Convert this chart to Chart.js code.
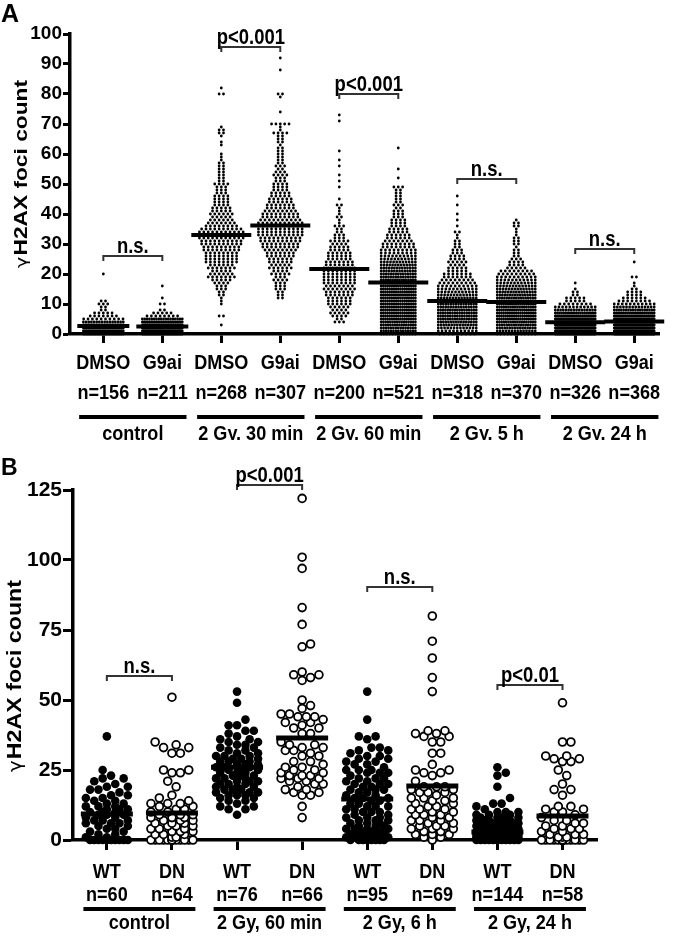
<!DOCTYPE html>
<html>
<head>
<meta charset="utf-8">
<script src="https://cdn.jsdelivr.net/npm/chart.js@4.4.1/dist/chart.umd.min.js"></script>
<style>
  html, body { margin: 0; padding: 0; background: #fff; }
  #wrap { position: relative; width: 693px; height: 936px; }
  canvas { position: absolute; left: 0; }
  #cA { top: 0; }
  #cB { top: 440px; }
</style>
</head>
<body>
<div id="wrap">
  <canvas id="cA" width="693" height="440"></canvas>
  <canvas id="cB" width="693" height="496"></canvas>
</div>
<script>
// ---------- panel A data: number of cells per foci count (index = foci count)
const treatA = ['DMSO', 'G9ai', 'DMSO', 'G9ai', 'DMSO', 'G9ai', 'DMSO', 'G9ai', 'DMSO', 'G9ai'];
const nA = ['n=156', 'n=211', 'n=268', 'n=307', 'n=200', 'n=521', 'n=318', 'n=370', 'n=326', 'n=368'];
const groupsA = ['control', '2 Gy, 30 min', '2 Gy, 60 min', '2 Gy, 5 h', '2 Gy, 24 h'];
const yTicksA = [0, 100, 10];

const ctrlDMSO = [30,30,26,22,16,10,7,5,2,2, 3,2,0,0,0,0,0,0,0,0, 1];
const ctrlG9ai = [38,42,38,32,24,18,8,5,2,0, 2,0,1,0,0,0,1];
const gy30DMSO = [0,0,0,1,0,0,2,0,0,0, 1,1,1,2,2,3,3,4,5,7, 6,5,7,6,8,8,8,8,9,9,
  10,10,11,11,11,10,8,7,6,5, 6,5,5,4,4,4,4,3,3,3, 4,2,2,2,2,2,2,2,1,1,
  1,0,0,1,1,0,1,2,2,1, 0,0,0,0,0,0,0,0,0,0, 2,0,1];
const gy30G9ai = [0,0,0,0,0,0,0,0,0,0, 0,0,2,2,2,3,3,3,4,3, 5,4,6,5,6,6,7,7,8,9,
  9,10,10,11,11,11,11,11,10,9, 9,8,7,7,6,6,5,5,4,4, 4,3,3,4,3,2,3,2,2,2,
  2,2,2,1,2,2,2,4,1,1, 5,0,0,0,1,0,0,0,0,1, 2,0,0,0,0,0,0,0,1,0, 0,0,1];
const gy60DMSO = [0,0,0,0,3,2,4,5,4,5, 6,6,6,7,7,8,7,8,8,8, 8,8,8,7,7,6,6,6,5,5,
  4,5,3,3,2,2,3,1,1,2, 1,1,1,2,0,1,0,0,0,1, 0,1,0,1,0,0,1,0,1,0,
  0,1,0,0,0,0,0,0,0,0, 0,1,0,1];
const gy60G9ai = [13,15,15,16,16,17,17,17,17,17, 17,17,17,18,17,17,17,16,16,15,
  15,14,14,13,12,11,10,9,9,8, 8,7,6,6,5,5,4,4,4,3, 3,3,2,3,2,2,2,2,2,3,
  0,0,1,0,0,1,0,0,0,0, 0,0,1];
const gy5hDMSO = [9,11,13,15,16,17,17,17,17,16, 16,15,14,13,12,11,10,9,8,7,
  7,5,5,4,5,4,4,3,3,2, 2,2,1,1,2,0,1,0,1,0, 1,0,0,1,0,0,1];
const gy5hG9ai = [12,14,16,17,18,19,19,19,19,18, 19,18,17,16,15,14,13,12,11,10,
  9,8,5,4,4,3,2,2,2,1, 2,2,2,1,1,1,2,2,1];
const gy24DMSO = [38,42,42,40,36,30,26,20,16,12, 8,5,5,2,2,1,0,1];
const gy24G9ai = [44,46,45,42,38,32,27,22,18,14, 11,8,6,4,4,2,1,1,0,2, 0,0,0,0,1];
const meansA = [2.7, 2.5, 33, 36.2, 21.7, 17.2, 11, 10.7, 3.9, 4.2];

const sigPairsA = [[0, 1], [2, 3], [4, 5], [6, 7], [8, 9]];
const sigTextA = ['n.s.', 'p<0.001', 'p<0.001', 'n.s.', 'n.s.'];
const sigLevelA = [26, 95.8, 80, 51.8, 28.2];

// ---------- panel B data: foci count of each cell
const treatB = ['WT', 'DN', 'WT', 'DN', 'WT', 'DN', 'WT', 'DN'];
const nB = ['n=60', 'n=64', 'n=76', 'n=66', 'n=95', 'n=69', 'n=144', 'n=58'];
const groupsB = ['control', '2 Gy, 60 min', '2 Gy, 6 h', '2 Gy, 24 h'];
const yTicksB = [0, 125, 25];

const wtCtrl = [0,0,0,0,0,0,0,0,0,0, 1,1,2,2,3,3,4,4,5,5, 6,6,6,7,7,7,8,8,9,9,9,
  10,10,10,11,11,11,12,12,12,13,13,14,14,15,15,16,16,17,18,18,19,19,20,21,22,22,23,25,37];
const dnCtrl = [0,0,0,0,0,0,0,0,0,0,0,0,0, 1,1,2,2,2,3,3,3,4,4,4,5,5,5,6,6,6,7,7,7,
  8,8,8,9,9,9,10,10,11,11,12,12,13,13,13,14,15,16,19,21,24,24,25,25,31,31,33,33,34,35,51];
const wt60 = [9,11,11,12,12,13,14,14,15,15,16,16,16,17,17,17,18,18,18,19,19,19,
  20,20,20,21,21,21,22,22,22,23,23,23,24,24,24,25,25,25,26,26,26,27,27,27,28,28,28,
  29,29,29,30,30,30,31,31,32,32,33,33,34,34,35,35,36,36,37,38,39,39,41,41,43,49,53];
const dn60 = [8,12,16,16,17,17,18,18,19,20,20,21,21,22,22,22,23,23,23,24,24,25,25,
  26,26,27,28,28,30,30,31,32,32,33,33,34,34,35,38,38,40,40,41,42,42,43,44,44,44,
  45,45,47,48,50,57,58,59,59,60,69,70,77,83,97,101,122];
const wt6h = [0,0,0,0,0,0,0,0, 1,1,1,2,2,2,2,2,3,3,3,4,4,4,4,5,5,5,6,6,6,7,7,7,
  8,8,8,9,9,10,10,10,11,11,12,12,12,13,13,14,14,15,15,15,16,16,17,17,
  18,18,18,19,19,20,20,20,21,21,22,22,22,23,24,24,24,25,25,25,26,27,27,
  28,28,29,29,30,30,31,32,32,33,33,36,37,37,43,53];
const dn6h = [0,1,1,2,2,2,3,3,4,4,4,5,5,5,6,6,7,7,7,8,8,9,9,9,10,10,11,11,11,
  12,12,13,13,14,14,15,15,15,16,17,17,17,18,18,19,19,19,21,23,24,24,25,25,27,
  31,31,35,35,37,37,38,38,39,39,53,58,65,71,80];
const wt24h = [0,0,0,0,0,0,0,0,0,0, 0,0,0,0,0,0,0,0,0,0, 0,0,0,0,0,0,0,0,0,0,
  0,0,0,0,0,0,0,0,0,0, 0,0,0,0,0,0,0,0,0,0,
  1,1,1,1,1,1,1,1,1,1,1,1,1,1,1,1,1,1,1,1, 2,2,2,2,2,2,2,2,2,2,2,2,2,2,
  3,3,3,3,3,3,3,3,3,3,3,3, 4,4,4,4,4,4,4,4,4,4, 5,5,5,5,5,5,5,5, 6,6,6,6,6,6,
  7,7,7,7,7, 8,8,8,8, 9,9,9, 10,10,10, 11, 12, 13,13, 15, 19, 23, 24, 26];
const dn24h = [0,0,0,0,0,0,0,0,0,0,0,0,0,0,0,0,0,0, 1,1,1,2,2,2,3,3,4,4,4,5,5,
  6,6,7,7,8,9,10,10,11,11,12,12,16,18,18,20,23,25,28,28,29,29,30,30,35,35,49];
const meansB = [9.3, 9.6, 26, 36.4, 14.6, 19.3, 2.9, 8.6];

const sigPairsB = [[0, 1], [2, 3], [4, 5], [6, 7]];
const sigTextB = ['n.s.', 'p<0.001', 'n.s.', 'p<0.01'];
const sigLevelB = [58.6, 126.8, 90.4, 55.4];

// ---------- layout
const SANS = "'Liberation Sans', Arial, sans-serif";

const A = { xMin: -0.565, xMax: 9.42, left: 70, right: 3, top: 25, bottom: 106, w: 693, h: 440 };
const B = { xMin: -0.52, xMax: 7.53, left: 73, right: 96, top: 50, bottom: 96, w: 693, h: 496 };
const pxX = (L) => (L.w - L.left - L.right) / (L.xMax - L.xMin);
const pxY = (L, max) => (L.h - L.top - L.bottom) / max;
// widest half-row (px) of each column in panel A
const halfWidthA = [21, 21, 26, 26, 25, 18, 20, 20, 21, 21];

// panel A: one row of dots per integer value, squeezed if the row gets too wide
function rowLayout(counts, cat) {
  const px = pxX(A), half = halfWidthA[cat];
  const pts = [];
  counts.forEach((c, v) => {
    if (!c) return;
    const s = c > 1 ? Math.min(4.6, 2 * half / (c - 1)) : 0;
    for (let j = 0; j < c; j++) pts.push({ x: cat + (j - (c - 1) / 2) * s / px, y: v });
  });
  return pts;
}

// panel B: simple beeswarm, points keep their value and move sideways
function swarm(values, cat) {
  const px = pxX(B), py = pxY(B, 125);
  const diam = 8.4, step = 4.2, kmax = 5;
  const placed = [];
  const pts = [];
  values.slice().sort((a, b) => a - b).forEach(v => {
    const yy = v * py;
    let best = 0, bestD = -1;
    search:
    for (let k = 0; k <= kmax; k++) {
      for (const sgn of (k === 0 ? [0] : [1, -1])) {
        const xx = sgn * k * step;
        let minD = Infinity;
        for (const p of placed) {
          if (Math.abs(p.y - yy) < diam) minD = Math.min(minD, Math.hypot(p.x - xx, p.y - yy));
        }
        if (minD >= diam) { best = xx; bestD = Infinity; break search; }
        if (minD > bestD) { bestD = minD; best = xx; }
      }
    }
    placed.push({ x: best, y: yy });
    pts.push({ x: cat + best / px, y: v });
  });
  return pts;
}

// condensed text: the figure uses a narrow face, squeeze Liberation Sans instead
function narrowText(ctx, text, x, y, sx) {
  ctx.save();
  ctx.translate(x, y);
  ctx.scale(sx, 1);
  ctx.fillText(text, 0, 0);
  ctx.restore();
}

function decor(cfg) {
  return {
    id: 'decor',
    afterDraw(chart) {
      const { ctx, chartArea: a, scales: { x, y } } = chart;
      ctx.save();
      ctx.fillStyle = '#000';
      ctx.textAlign = 'center';
      ctx.textBaseline = 'middle';
      ctx.font = cfg.labelFont;
      cfg.treat.forEach((t, i) => narrowText(ctx, t, x.getPixelForValue(i), a.bottom + cfg.row1, cfg.sx));
      cfg.n.forEach((t, i) => narrowText(ctx, t, x.getPixelForValue(i), a.bottom + cfg.row2, cfg.sx));
      cfg.groups.forEach((g, k) => {
        const c = 2 * k + 0.5;
        const x0 = x.getPixelForValue(c - cfg.barHalf), x1 = x.getPixelForValue(c + cfg.barHalf);
        ctx.fillRect(x0, a.bottom + cfg.bar - 2, x1 - x0, 4);
        narrowText(ctx, g, x.getPixelForValue(c), a.bottom + cfg.row3, cfg.sx);
      });

      // significance brackets
      ctx.strokeStyle = '#333';
      ctx.lineWidth = 2;
      ctx.font = cfg.sigFont;
      ctx.textBaseline = 'alphabetic';
      cfg.pairs.forEach(([i, j], k) => {
        const xa = x.getPixelForValue(i), xb = x.getPixelForValue(j);
        const yy = Math.round(y.getPixelForValue(cfg.levels[k]));
        ctx.beginPath();
        ctx.moveTo(xa, yy + 5); ctx.lineTo(xa, yy); ctx.lineTo(xb, yy); ctx.lineTo(xb, yy + 5);
        ctx.stroke();
        narrowText(ctx, cfg.texts[k], (xa + xb) / 2, yy - 3, 0.84);
      });

      // y axis title, gamma in a lighter face
      ctx.save();
      ctx.translate(cfg.titleX, cfg.titleY);
      ctx.rotate(-Math.PI / 2);
      const g = 'γ', rest = 'H2AX foci count';
      ctx.font = `${Math.round(cfg.titleSize * 0.85)}px 'DejaVu Sans', sans-serif`;
      const wg = ctx.measureText(g).width + 1;
      ctx.font = `bold ${cfg.titleSize}px ${SANS}`;
      const wr = ctx.measureText(rest).width;
      ctx.scale(cfg.titleLen / (wg + wr), 1);
      const x0 = -(wg + wr) / 2, base = cfg.titleSize * 0.36;
      ctx.textAlign = 'left';
      ctx.font = `${Math.round(cfg.titleSize * 0.85)}px 'DejaVu Sans', sans-serif`;
      ctx.fillText(g, x0, base);
      ctx.font = `bold ${cfg.titleSize}px ${SANS}`;
      ctx.fillText(rest, x0 + wg, base);
      ctx.restore();

      // panel letter
      ctx.textAlign = 'left';
      ctx.font = `bold ${cfg.letterSize}px ${SANS}`;
      ctx.fillText(cfg.letter, 1, cfg.letterY);
      ctx.restore();
    }
  };
}

function axes(L, yMin, yMax, yStep, nCats, tickFont, yTickLen, xTickLen) {
  return {
    x: {
      type: 'linear', min: L.xMin, max: L.xMax,
      afterBuildTicks: s => { s.ticks = Array.from({ length: nCats }, (_, i) => ({ value: i })); },
      afterFit: s => { s.height = L.bottom; },
      ticks: { display: false },
      grid: { drawOnChartArea: false, drawTicks: true, tickLength: xTickLen, tickWidth: 3, tickColor: '#000' },
      border: { display: true, color: '#000', width: 3.5 }
    },
    y: {
      type: 'linear', min: yMin, max: yMax,
      afterFit: s => { s.width = L.left; },
      ticks: { stepSize: yStep, color: '#000', padding: 1, font: { family: SANS, size: tickFont, weight: 'bold' } },
      grid: { drawOnChartArea: false, drawTicks: true, tickLength: yTickLen, tickWidth: 3, tickColor: '#000' },
      border: { display: true, color: '#000', width: 3.5 }
    }
  };
}

const common = {
  responsive: false,
  animation: false,
  devicePixelRatio: 1,
  events: [],
  plugins: { legend: { display: false }, tooltip: { enabled: false } }
};

// ---------- chart A
const dataA = [ctrlDMSO, ctrlG9ai, gy30DMSO, gy30G9ai, gy60DMSO, gy60G9ai, gy5hDMSO, gy5hG9ai, gy24DMSO, gy24G9ai];
new Chart(document.getElementById('cA'), {
  type: 'scatter',
  data: {
    datasets: [
      {
        data: meansA.map((m, i) => ({ x: i, y: m })),
        pointStyle: 'line', pointRadius: meansA.map((_, i) => (i < 2 ? 26 : 30)),
        pointBorderWidth: 4, pointBorderColor: '#000', order: 0, clip: false
      },
      ...dataA.map((counts, i) => ({
        data: rowLayout(counts, i),
        pointRadius: 1.4, pointBackgroundColor: '#000', pointBorderWidth: 0, order: 1, clip: false
      }))
    ]
  },
  options: {
    ...common,
    layout: { padding: { left: 0, right: A.right, top: A.top, bottom: 0 } },
    scales: axes(A, yTicksA[0], yTicksA[1], yTicksA[2], 10, 19, 7, 9)
  },
  plugins: [decor({
    treat: treatA, n: nA, groups: groupsA, barHalf: 0.91,
    row1: 29, row2: 59, bar: 83, row3: 100, sx: 0.86,
    labelFont: `bold 21px ${SANS}`, sigFont: `bold 22px ${SANS}`,
    pairs: sigPairsA, texts: sigTextA, levels: sigLevelA,
    titleX: 21, titleY: 174, titleSize: 18, titleLen: 188,
    letter: 'A', letterSize: 25, letterY: 22
  })]
});

// ---------- chart B
const dataB = [wtCtrl, dnCtrl, wt60, dn60, wt6h, dn6h, wt24h, dn24h];
new Chart(document.getElementById('cB'), {
  type: 'scatter',
  data: {
    datasets: [
      {
        data: meansB.map((m, i) => ({ x: i, y: m })),
        pointStyle: 'line', pointRadius: 26,
        pointBorderWidth: 5, pointBorderColor: '#000', order: 0, clip: false
      },
      ...dataB.map((vals, i) => ({
        data: swarm(vals, i),
        pointRadius: i % 2 === 0 ? 4.3 : 3.9,
        pointBackgroundColor: i % 2 === 0 ? '#000' : '#fff',
        pointBorderColor: '#000',
        pointBorderWidth: i % 2 === 0 ? 0 : 1.8,
        order: 1, clip: false
      }))
    ]
  },
  options: {
    ...common,
    layout: { padding: { left: 0, right: B.right, top: B.top, bottom: 0 } },
    scales: axes(B, yTicksB[0], yTicksB[1], yTicksB[2], 8, 21, 10, 10)
  },
  plugins: [decor({
    treat: treatB, n: nB, groups: groupsB, barHalf: 0.86,
    row1: 32, row2: 55, bar: 69, row3: 83, sx: 0.86,
    labelFont: `bold 21px ${SANS}`, sigFont: `bold 22px ${SANS}`,
    pairs: sigPairsB, texts: sigTextB, levels: sigLevelB,
    titleX: 14, titleY: 236, titleSize: 20, titleLen: 192,
    letter: 'B', letterSize: 23, letterY: 35
  })]
});
</script>
</body>
</html>
